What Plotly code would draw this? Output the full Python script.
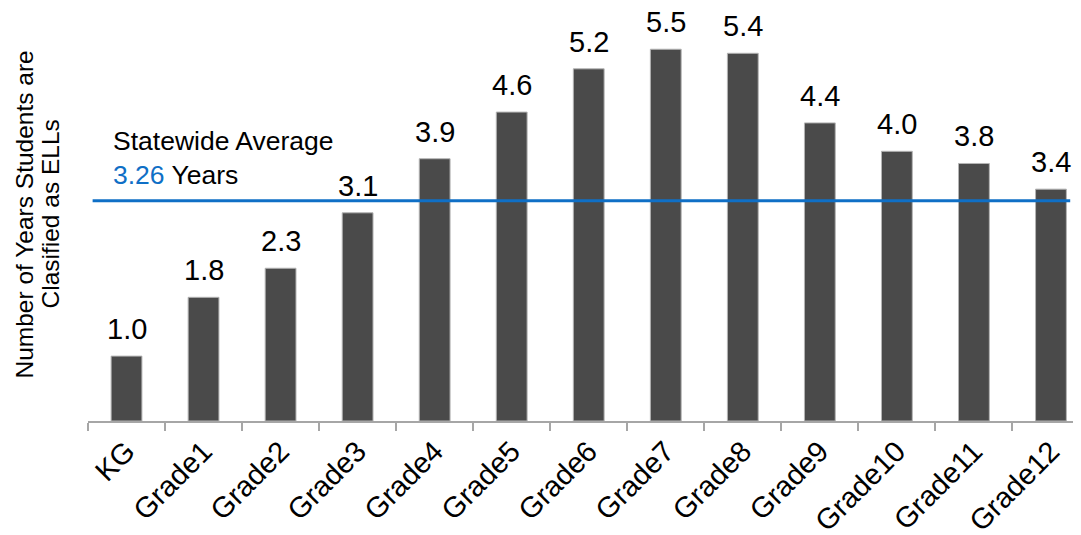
import plotly.graph_objects as go

grades = ["KG", "Grade1", "Grade2", "Grade3", "Grade4", "Grade5", "Grade6",
          "Grade7", "Grade8", "Grade9", "Grade10", "Grade11", "Grade12"]
years = [0.96, 1.83, 2.26, 3.08, 3.88, 4.57, 5.21, 5.50, 5.44, 4.41, 3.99, 3.81, 3.43]
statewide_avg = 3.26
ytitle_lines = ["Number of Years Students are", "Clasified as ELLs"]

REG = "Liberation Sans, Arial, sans-serif"
BLUE = "#0f6fc6"

fig = go.Figure()
fig.add_trace(go.Bar(
    x=grades, y=years, width=0.4,
    marker=dict(color="#4a4a4a", line=dict(color="#b4b4b4", width=1)),
    hoverinfo="skip",
))

for g, v in zip(grades, years):
    fig.add_annotation(x=g, y=v, text=f"{v:.1f}", showarrow=False,
                       yanchor="bottom", yshift=9,
                       font=dict(family=REG, size=29, color="#000000"))

fig.add_shape(type="line", xref="x", yref="y", x0=-0.44, x1=12.25,
              y0=statewide_avg, y1=statewide_avg,
              line=dict(color=BLUE, width=3))

fig.add_annotation(xref="x", yref="y", x=-0.2, y=statewide_avg,
                   xanchor="left", yanchor="bottom", align="left", yshift=9,
                   showarrow=False,
                   text=f"Statewide Average<br><span style='color:{BLUE}'>{statewide_avg:.2f}</span> Years",
                   font=dict(family=REG, size=26.5, color="#000000"))

for i, line in enumerate(ytitle_lines):
    fig.add_annotation(xref="paper", yref="paper", x=0, y=0.5, xshift=-64 + 26 * i,
                       xanchor="center", yanchor="middle", textangle=-90,
                       showarrow=False, text=line,
                       font=dict(family=REG, size=24.5, color="#000000"))

fig.update_layout(
    width=1081, height=535,
    margin=dict(l=80, r=8, t=0, b=122),
    plot_bgcolor="white", paper_bgcolor="white",
    showlegend=False,
)
fig.update_xaxes(
    type="category", range=[-0.5, 12.39],
    showline=True, linecolor="#a6a6a6", linewidth=1.5,
    ticks="outside", tickson="boundaries", ticklen=8, tickcolor="#a6a6a6", tickwidth=1.5,
    tickangle=-45, tickfont=dict(family=REG, size=29, color="#000000"),
    showgrid=False,
)
fig.update_yaxes(range=[0, 6.11], visible=False, showgrid=False)

fig.write_html("out.html")
